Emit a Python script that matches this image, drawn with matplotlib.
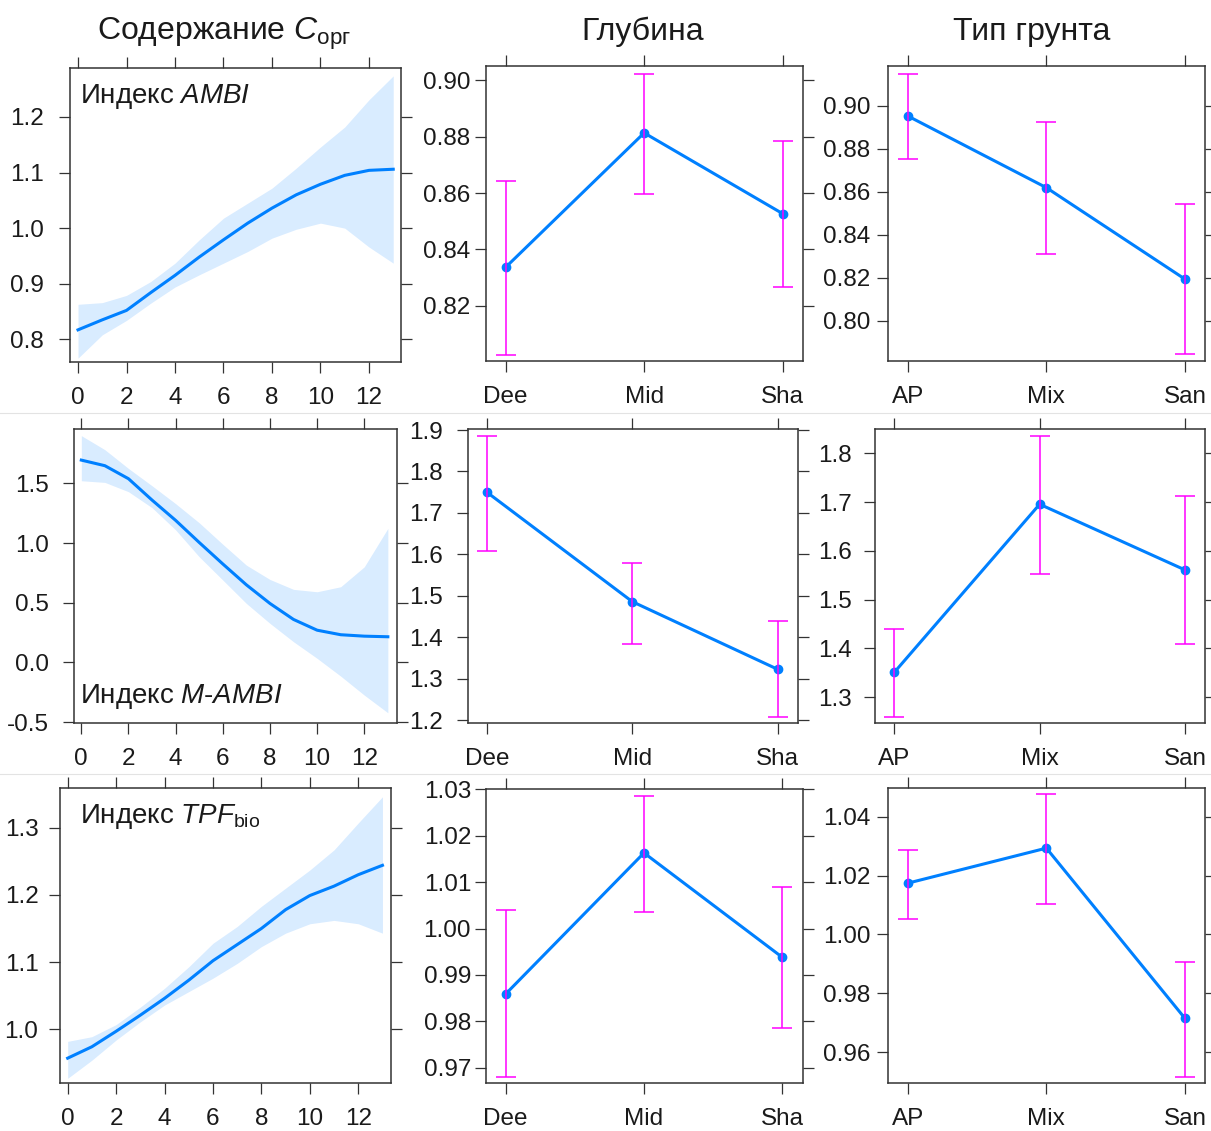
import matplotlib
matplotlib.use('Agg')
import matplotlib.pyplot as plt
from matplotlib.ticker import FormatStrFormatter
from matplotlib.lines import Line2D

plt.rcParams['font.family'] = ['Liberation Sans', 'DejaVu Sans']
plt.rcParams['mathtext.fontset'] = 'custom'
plt.rcParams['mathtext.rm'] = 'Liberation Sans'
plt.rcParams['mathtext.it'] = 'Liberation Sans:italic'
plt.rcParams['axes.unicode_minus'] = False

# ---- данные ----
corg = [0, 1, 2, 3, 4, 5, 6, 7, 8, 9, 10, 11, 12, 13]

ambi_fit = [0.817, 0.835, 0.852, 0.884, 0.915, 0.948, 0.979, 1.009, 1.036, 1.060, 1.079, 1.095, 1.104, 1.106]
ambi_lo = [0.766, 0.808, 0.834, 0.865, 0.894, 0.916, 0.937, 0.958, 0.982, 0.998, 1.009, 1.000, 0.966, 0.937]
ambi_hi = [0.863, 0.866, 0.879, 0.904, 0.937, 0.979, 1.018, 1.045, 1.072, 1.108, 1.146, 1.182, 1.231, 1.274]

mambi_fit = [1.695, 1.648, 1.539, 1.360, 1.190, 1.005, 0.825, 0.650, 0.494, 0.360, 0.270, 0.232, 0.220, 0.215]
mambi_lo = [1.522, 1.508, 1.430, 1.296, 1.110, 0.885, 0.690, 0.494, 0.327, 0.173, 0.034, -0.115, -0.274, -0.422]
mambi_hi = [1.900, 1.782, 1.625, 1.480, 1.330, 1.170, 0.990, 0.815, 0.695, 0.612, 0.592, 0.634, 0.801, 1.123]

tpf_fit = [0.957, 0.974, 0.997, 1.021, 1.046, 1.073, 1.102, 1.126, 1.150, 1.178, 1.199, 1.213, 1.230, 1.244]
tpf_lo = [0.927, 0.954, 0.984, 1.011, 1.036, 1.056, 1.076, 1.098, 1.123, 1.143, 1.157, 1.162, 1.157, 1.143]
tpf_hi = [0.982, 0.989, 1.007, 1.033, 1.061, 1.093, 1.128, 1.153, 1.183, 1.210, 1.237, 1.267, 1.307, 1.346]

depth_levels = ['Dee', 'Mid', 'Sha']
soil_levels = ['AP', 'Mix', 'San']

ambi_depth = [0.8337, 0.8813, 0.8527]
ambi_depth_lo = [0.8028, 0.8595, 0.8266]
ambi_depth_hi = [0.8643, 0.9022, 0.8785]

ambi_soil = [0.8952, 0.8619, 0.8194]
ambi_soil_lo = [0.8752, 0.8311, 0.7846]
ambi_soil_hi = [0.9149, 0.8923, 0.8542]

mambi_depth = [1.7496, 1.4856, 1.3224]
mambi_depth_lo = [1.6078, 1.3837, 1.2064]
mambi_depth_hi = [1.8855, 1.5785, 1.4400]

mambi_soil = [1.3512, 1.6955, 1.5610]
mambi_soil_lo = [1.2590, 1.5535, 1.4092]
mambi_soil_hi = [1.4400, 1.8355, 1.7125]

tpf_depth = [0.9859, 1.0163, 0.9938]
tpf_depth_lo = [0.9681, 1.0036, 0.9786]
tpf_depth_hi = [1.0039, 1.0286, 1.0089]

tpf_soil = [1.0174, 1.0293, 0.9715]
tpf_soil_lo = [1.0052, 1.0103, 0.9517]
tpf_soil_hi = [1.0285, 1.0477, 0.9908]

col_titles = ['Содержание $\\mathit{C}_{\\mathrm{орг}}$', 'Глубина', 'Тип грунта']
index_labels = ['Индекс $\\mathit{AMBI}$', 'Индекс $\\mathit{M}$-$\\mathit{AMBI}$',
                'Индекс $\\mathit{TPF}_{\\mathrm{bio}}$']

# ---- оформление ----
W, H = 1211, 1131
LINE = '#0080ff'
ERR = '#ff00ff'
FRAME = '#333333'
TXT = '#1a1a1a'

fig = plt.figure(figsize=(W / 100, H / 100), dpi=100)


def add_panel(l, t, r, b, ypad):
    ax = fig.add_axes([l / W, 1 - b / H, (r - l) / W, (b - t) / H])
    for s in ax.spines.values():
        s.set_color(FRAME)
        s.set_linewidth(1.1)
    ax.tick_params(direction='out', length=8, width=0.9, color=FRAME,
                   top=True, right=True, labeltop=False, labelright=False,
                   labelsize=17.5, labelcolor=TXT)
    ax.tick_params(axis='x', pad=10)
    ax.tick_params(axis='y', pad=ypad)
    return ax


def smooth_panel(ax, fit, lo, hi, xlim, ylim, yticks, fmt):
    ax.fill_between(corg, lo, hi, color=LINE, alpha=0.15, linewidth=0)
    ax.plot(corg, fit, color=LINE, lw=2.2)
    ax.set_xlim(*xlim)
    ax.set_ylim(*ylim)
    ax.set_xticks([0, 2, 4, 6, 8, 10, 12])
    ax.set_yticks(yticks)
    ax.yaxis.set_major_formatter(FormatStrFormatter(fmt))


def factor_panel(ax, levels, est, lo, hi, xlim, ylim, yticks, fmt):
    pos = [1, 2, 3]
    ax.plot(pos, est, color=LINE, lw=2.2, marker='o', ms=6, zorder=2)
    yerr = [[e - l for e, l in zip(est, lo)], [h - e for e, h in zip(est, hi)]]
    ax.errorbar(pos, est, yerr=yerr, fmt='none', ecolor=ERR, elinewidth=1.1,
                capsize=7.5, capthick=1.1, zorder=3)
    ax.set_xlim(*xlim)
    ax.set_ylim(*ylim)
    ax.set_xticks(pos)
    ax.set_xticklabels(levels)
    ax.set_yticks(yticks)
    ax.yaxis.set_major_formatter(FormatStrFormatter(fmt))


# ряд 1: AMBI
ax = add_panel(70, 67.7, 401, 361.7, 11)
smooth_panel(ax, ambi_fit, ambi_lo, ambi_hi, (-0.33, 13.32), (0.7597, 1.2887),
             [0.8, 0.9, 1.0, 1.1, 1.2], '%.1f')
ax = add_panel(485.7, 66, 803, 361, 3)
factor_panel(ax, depth_levels, ambi_depth, ambi_depth_lo, ambi_depth_hi,
             (0.856, 3.147), (0.8005, 0.905), [0.82, 0.84, 0.86, 0.88, 0.90], '%.2f')
ax = add_panel(888.3, 66, 1205, 361, 5)
factor_panel(ax, soil_levels, ambi_soil, ambi_soil_lo, ambi_soil_hi,
             (0.86, 3.144), (0.7814, 0.9184), [0.80, 0.82, 0.84, 0.86, 0.88, 0.90], '%.2f')

# ряд 2: M-AMBI
ax = add_panel(74, 429.3, 396.7, 722.7, 10)
smooth_panel(ax, mambi_fit, mambi_lo, mambi_hi, (-0.31, 13.375), (-0.505, 1.953),
             [-0.5, 0.0, 0.5, 1.0, 1.5], '%.1f')
ax = add_panel(467.7, 429.3, 797.7, 722.7, 10)
factor_panel(ax, depth_levels, mambi_depth, mambi_depth_lo, mambi_depth_hi,
             (0.867, 3.138), (1.1935, 1.9017), [1.2, 1.3, 1.4, 1.5, 1.6, 1.7, 1.8, 1.9], '%.1f')
ax = add_panel(875, 429.3, 1205, 722.7, 9)
factor_panel(ax, soil_levels, mambi_soil, mambi_soil_lo, mambi_soil_hi,
             (0.867, 3.138), (1.248, 1.849), [1.3, 1.4, 1.5, 1.6, 1.7, 1.8], '%.1f')

# ряд 3: TPFbio
ax = add_panel(60, 788.3, 390.7, 1082.7, 7.5)
smooth_panel(ax, tpf_fit, tpf_lo, tpf_hi, (-0.317, 13.34), (0.9205, 1.3586),
             [1.0, 1.1, 1.2, 1.3], '%.1f')
ax = add_panel(485.7, 789.3, 802.7, 1082.7, 2.5)
factor_panel(ax, depth_levels, tpf_depth, tpf_depth_lo, tpf_depth_hi,
             (0.856, 3.147), (0.9668, 1.03), [0.97, 0.98, 0.99, 1.00, 1.01, 1.02, 1.03], '%.2f')
ax = add_panel(888.3, 788.3, 1205, 1083.3, 5)
factor_panel(ax, soil_levels, tpf_soil, tpf_soil_lo, tpf_soil_hi,
             (0.86, 3.144), (0.9495, 1.0496), [0.96, 0.98, 1.00, 1.02, 1.04], '%.2f')

# заголовки колонок
for x, title in zip([224, 643, 1032], col_titles):
    fig.text(x / W, 1 - 40 / H, title, ha='center', va='baseline', fontsize=23, color=TXT)

# подписи индексов
for y, lab in zip([103, 703, 823], index_labels):
    fig.text(80 / W, 1 - y / H, lab, ha='left', va='baseline', fontsize=20, color=TXT)

# тонкие разделители рядов
for y in [412.5, 773.5]:
    fig.add_artist(Line2D([0, 1], [1 - y / H, 1 - y / H], color='#e3e3e3', lw=0.8))

fig.savefig('out.png', dpi=100)
